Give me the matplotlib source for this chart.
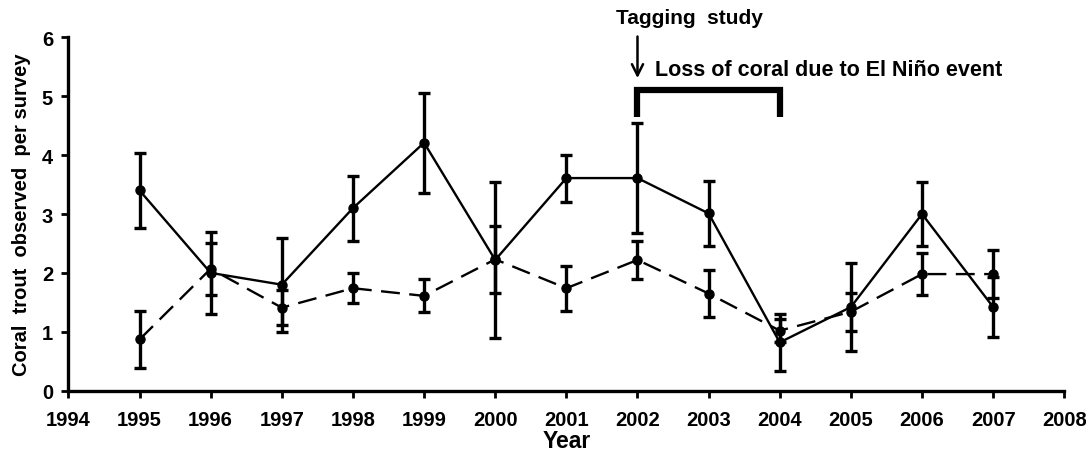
import matplotlib
matplotlib.use("Agg")
import matplotlib.pyplot as plt

# years surveyed
years = [1995, 1996, 1997, 1998, 1999, 2000, 2001, 2002, 2003, 2004, 2005, 2006, 2007]

# solid series
solid_mean = [3.40, 2.00, 1.80, 3.10, 4.21, 2.22, 3.61, 3.61, 3.01, 0.82, 1.42, 3.00, 1.42]
solid_err = [0.63, 0.70, 0.80, 0.55, 0.85, 1.32, 0.40, 0.93, 0.55, 0.49, 0.75, 0.55, 0.51]

# dashed series
dashed_mean = [0.87, 2.07, 1.41, 1.74, 1.61, 2.23, 1.74, 2.22, 1.65, 1.02, 1.34, 1.98, 1.98]
dashed_err = [0.48, 0.44, 0.30, 0.25, 0.28, 0.57, 0.38, 0.33, 0.40, 0.20, 0.32, 0.35, 0.41]

xticks = list(range(1994, 2009))
yticks = [0, 1, 2, 3, 4, 5, 6]

plt.rcParams['font.family'] = ['Liberation Sans', 'DejaVu Sans']
plt.rcParams['font.weight'] = 'bold'

fig = plt.figure(figsize=(10.86, 4.56), dpi=100)
ax = fig.add_axes([0.063, 0.141, 0.917, 0.775])

ax.errorbar(years, dashed_mean, yerr=dashed_err, color='black', lw=1.7,
            linestyle=(0, (8, 4)), marker='o', markersize=6.5,
            elinewidth=2.4, capsize=4.5, capthick=2.4)
ax.errorbar(years, solid_mean, yerr=solid_err, color='black', lw=1.7,
            linestyle='-', marker='o', markersize=6.5,
            elinewidth=2.4, capsize=4.5, capthick=2.4)

ax.set_xlim(1994, 2008)
ax.set_ylim(0, 6)
ax.set_xticks(xticks)
ax.set_yticks(yticks)
ax.tick_params(labelsize=14.5, width=2, length=5)
ax.tick_params(axis='x', pad=9)
ax.tick_params(axis='y', pad=6)
for lbl in ax.get_xticklabels() + ax.get_yticklabels():
    lbl.set_fontweight('bold')

for s in ['top', 'right']:
    ax.spines[s].set_visible(False)
for s in ['left', 'bottom']:
    ax.spines[s].set_linewidth(2.4)

ax.set_xlabel('Year', fontsize=16.5, fontweight='bold', labelpad=0)
ax.set_ylabel('Coral  trout  observed  per survey', fontsize=14.5,
              fontweight='bold', labelpad=8)

# annotations
ax.annotate('', xy=(2002, 5.26), xytext=(2002, 6.06),
            arrowprops=dict(arrowstyle='->', color='black', lw=1.8,
                            mutation_scale=20),
            annotation_clip=False)
ax.text(2002.73, 6.34, 'Tagging  study', fontsize=15, fontweight='bold',
        ha='center', va='center', clip_on=False)
ax.text(2002.25, 5.46, 'Loss of coral due to El Niño event', fontsize=15.5,
        fontweight='bold', ha='left', va='center')
ax.plot([2002, 2002, 2004, 2004], [4.64, 5.11, 5.11, 4.64], color='black',
        lw=4.5, solid_joinstyle='miter', solid_capstyle='butt')

fig.savefig('out.png', dpi=100)
